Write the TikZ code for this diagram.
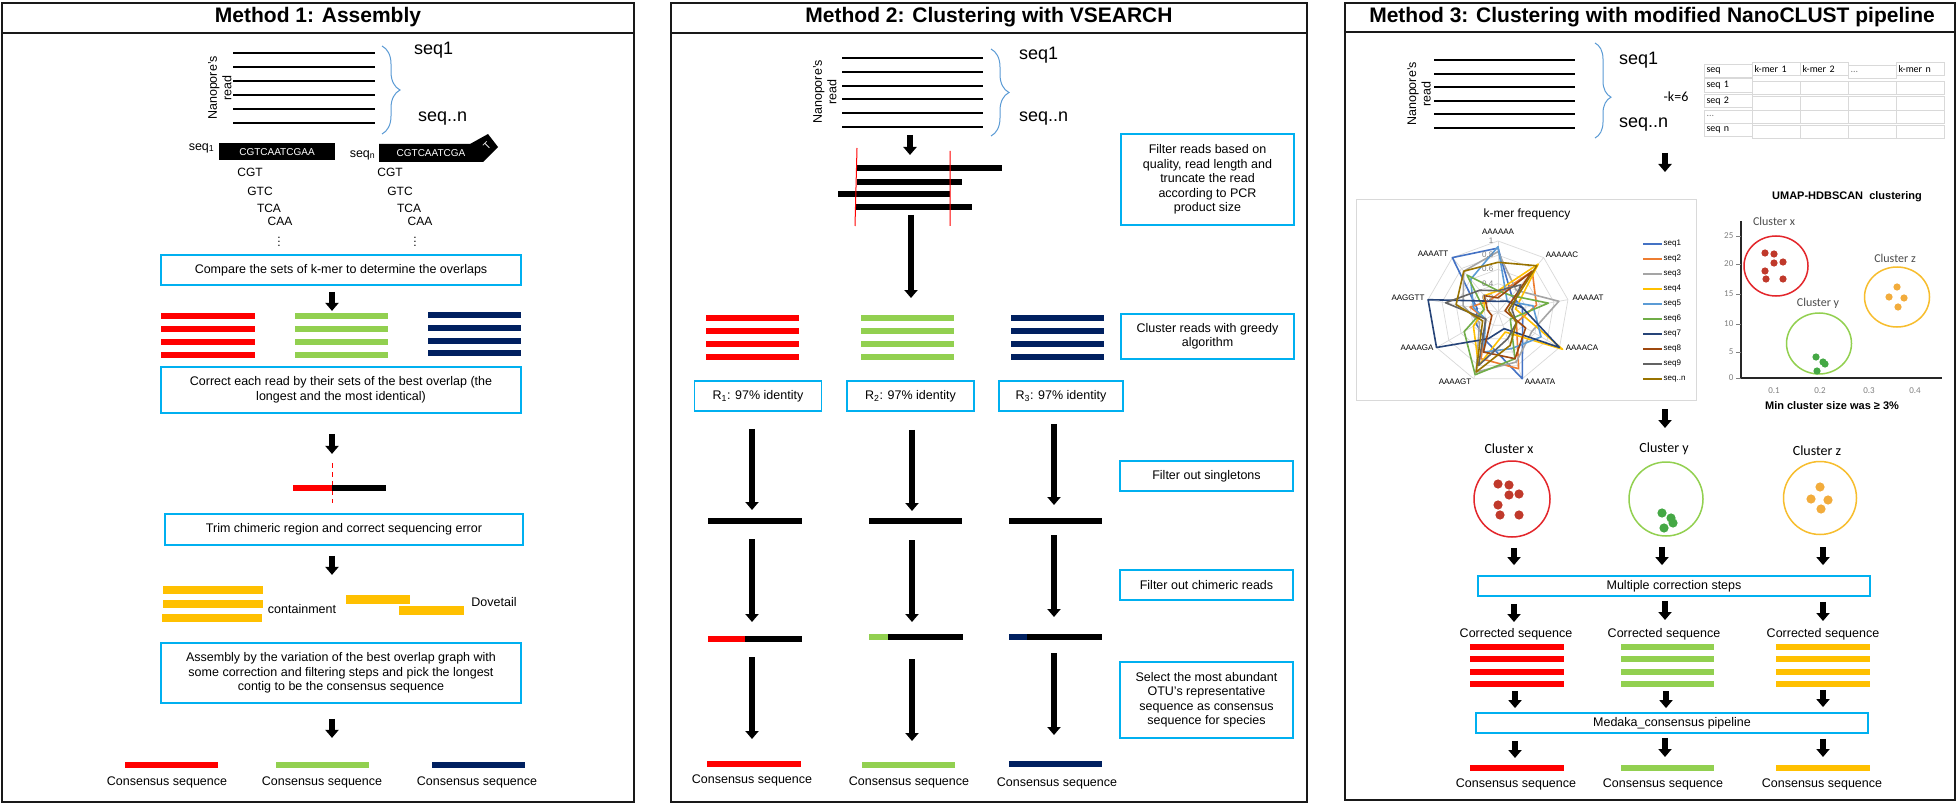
\documentclass[tikz,border=0pt]{standalone}
\usepackage{fontspec}
\setmainfont{Liberation Sans}
\newfontfamily\calfont{Carlito}
\usepackage{tikz}
\usetikzlibrary{arrows.meta,decorations.pathreplacing,matrix}

\definecolor{boxblue}{HTML}{00B0F0}
\definecolor{bracecol}{HTML}{5B9BD5}
\definecolor{seqred}{HTML}{FF0000}
\definecolor{seqgreen}{HTML}{92D050}
\definecolor{seqnavy}{HTML}{002060}
\definecolor{seqyellow}{HTML}{FFC000}
\definecolor{gridgray}{HTML}{D9D9D9}
\definecolor{tickgray}{HTML}{808080}
\definecolor{kmA}{HTML}{4472C4}
\definecolor{kmB}{HTML}{ED7D31}
\definecolor{kmC}{HTML}{A5A5A5}
\definecolor{kmD}{HTML}{FFC000}
\definecolor{kmE}{HTML}{5B9BD5}
\definecolor{kmF}{HTML}{70AD47}
\definecolor{kmG}{HTML}{264478}
\definecolor{kmH}{HTML}{9E480E}
\definecolor{kmI}{HTML}{636363}
\definecolor{kmJ}{HTML}{997300}
\definecolor{clred}{HTML}{E3262B}
\definecolor{dotred}{HTML}{C0392B}
\definecolor{clgreen}{HTML}{92D050}
\definecolor{dotgreen}{HTML}{45A845}
\definecolor{clyellow}{HTML}{F7BD2D}
\definecolor{dotyellow}{HTML}{F2AC3C}

\newcommand{\bodyfont}{\fontsize{12.5}{14.5}\selectfont}
\newcommand{\titlefont}{\fontsize{21}{24}\selectfont\bfseries}
\newcommand{\seqfont}{\fontsize{18}{20}\selectfont}
\newcommand{\kmerfont}{\fontsize{12}{14}\selectfont}
\newcommand{\strandfont}{\fontsize{10}{12}\selectfont}
\newcommand{\chartfont}{\fontsize{8}{9.5}\selectfont}
\newcommand{\plotfont}{\calfont\fontsize{9}{11}\selectfont}
\newcommand{\tablefont}{\calfont\fontsize{10}{12}\selectfont}
\newcommand{\paramfont}{\calfont\fontsize{14}{16}\selectfont}
\newcommand{\clusterfont}{\calfont\fontsize{14}{16}\selectfont}
\newcommand{\smallclusterfont}{\calfont\fontsize{12}{14}\selectfont}
\newcommand{\plotbold}{\fontsize{11}{13}\selectfont\bfseries}

\tikzset{
  panel/.style={draw=black!90, line width=2.4pt},
  titletext/.style={font=\titlefont, inner sep=0pt},
  stepbox/.style={draw=boxblue, line width=1.8pt, align=center, font=\bodyfont, inner sep=1pt},
  labeltext/.style={font=\bodyfont, inner sep=0.5pt, align=center},
  kmertext/.style={font=\kmerfont, inner sep=0pt},
  seqtext/.style={font=\seqfont, anchor=west, inner sep=0pt},
  blockarrow/.style={line width=5.5pt, -{Triangle[width=13pt,length=8pt]}},
  readline/.style={line width=1.6pt},
  readbar/.style={line width=6pt},
  barnode/.style={inner sep=0pt, outer sep=0pt, minimum height=6pt},
  seqbrace/.style={draw=bracecol, line width=1pt, decorate, decoration={brace, amplitude=18pt}},
  gridline/.style={draw=gridgray, line width=0.7pt},
  series/.style={line width=1.6pt, line join=round},
  axislabel/.style={font=\chartfont, inner sep=0.5pt},
  ticklabel/.style={font=\plotfont, text=tickgray, inner sep=0.5pt},
  clusterlabel/.style={font=\clusterfont, inner sep=0.5pt},
  bigcluster/.style={circle, line width=1.5pt, inner sep=0pt},
}

\begin{document}
\begin{tikzpicture}[x=1pt, y=-1pt]
\useasboundingbox (0,0) rectangle (1960,805);
\fill[white] (0,0) rectangle (1960,805);

% ---------------- Method 1 ----------------
\draw[panel] (2,3) rectangle (634,802);
\draw[panel] (2,33) -- (634,33);
\node[titletext] (title1) at (318,17.5) {Method 1: Assembly};

\draw[readline] (233,53) -- (375,53) (233,67) -- (375,67) (233,81) -- (375,81)
  (233,95) -- (375,95) (233,109) -- (375,109) (233,123) -- (375,123);
\node[labeltext, rotate=90] (reads1) at (220,88) {Nanopore’s\\read};
\draw[seqbrace] (382,46) -- (382,134);
\node[seqtext] (seqa1) at (414,50) {seq1};
\node[seqtext] (seqn1) at (418,119) {seq..n};

\node[labeltext, anchor=east] (strandlab1) at (215,148) {seq\textsubscript{1}};
\node[barnode, fill=black, text=white, font=\strandfont, minimum width=116pt, minimum height=17pt] (strand1) at (277,152) {CGTCAATCGAA};
\node[labeltext, anchor=east] (strandlab2) at (376,155) {seq\textsubscript{n}};
\fill (379,144) -- (470,144) -- (488,134) -- (498,147) -- (483,162) -- (379,162) -- cycle;
\node[text=white, font=\strandfont, inner sep=0pt] (strand2) at (431,153) {CGTCAATCGA};
\node[text=white, font=\strandfont, inner sep=0pt, rotate=45] (strand2t) at (487,146) {T};

\node[kmertext] (kmer1a) at (250,172) {CGT};
\node[kmertext] (kmer1b) at (260,191) {GTC};
\node[kmertext] (kmer1c) at (269,208) {TCA};
\node[kmertext] (kmer1d) at (280,221) {CAA};
\node[kmertext] (kmer1e) at (279,239) {$\vdots$};
\node[kmertext] (kmer2a) at (390,172) {CGT};
\node[kmertext] (kmer2b) at (400,191) {GTC};
\node[kmertext] (kmer2c) at (409,208) {TCA};
\node[kmertext] (kmer2d) at (420,221) {CAA};
\node[kmertext] (kmer2e) at (415,239) {$\vdots$};

\node[stepbox, minimum width=360pt, minimum height=30pt] (compare) at (341,270) {Compare the sets of k-mer to determine the overlaps};
\draw[blockarrow] ([shift={(-9,6)}]compare.south) -- ([shift={(-9,25)}]compare.south);

\draw[readbar, seqred] (161,316) -- (255,316) (161,329) -- (255,329) (161,342) -- (255,342) (161,355) -- (255,355);
\draw[readbar, seqgreen] (295,316) -- (388,316) (295,329) -- (388,329) (295,342) -- (388,342) (295,355) -- (388,355);
\draw[readbar, seqnavy] (428,315) -- (521,315) (428,328) -- (521,328) (428,341) -- (521,341) (428,353) -- (521,353);

\node[stepbox, minimum width=360pt, minimum height=46pt] (correct) at (341,390) {Correct each read by their sets of the best overlap (the\\longest and the most identical)};
\draw[blockarrow] ([shift={(-9,20)}]correct.south) -- ([shift={(-9,40)}]correct.south);

\draw[seqred, line width=1pt, dash pattern=on 5pt off 4pt] (332,463) -- (332,503);
\draw[readbar, seqred] (293,488) -- (332,488);
\draw[readbar] (332,488) -- (386,488);

\node[stepbox, minimum width=358pt, minimum height=31pt] (trim) at (344,529.5) {Trim chimeric region and correct sequencing error};
\draw[blockarrow] ([shift={(-12,10)}]trim.south) -- ([shift={(-12,29)}]trim.south);

\draw[line width=8pt, seqyellow] (163,590) -- (263,590) (163,604) -- (263,604) (162,618) -- (262,618);
\draw[line width=9pt, seqyellow] (346,599) -- (410,599) (399,610) -- (464,610);
\node[labeltext] (contain) at (302,609) {containment};
\node[labeltext] (dovetail) at (494,602) {Dovetail};

\node[stepbox, minimum width=360pt, minimum height=60pt] (assembly) at (341,673) {Assembly by the variation of the best overlap graph with\\some correction and filtering steps and pick the longest\\contig to be the consensus sequence};
\draw[blockarrow] ([shift={(-9,15)}]assembly.south) -- ([shift={(-9,34)}]assembly.south);

\node[barnode, fill=seqred, minimum width=93pt] (cons1a) at (171.5,765) {};
\node[barnode, fill=seqgreen, minimum width=93pt] (cons1b) at (322.5,765) {};
\node[barnode, fill=seqnavy, minimum width=93pt] (cons1c) at (478.5,765) {};
\node[labeltext] at ([shift={(-4.5,17)}]cons1a.center) (conslab1a) {Consensus sequence};
\node[labeltext] at ([shift={(-0.5,17)}]cons1b.center) (conslab1b) {Consensus sequence};
\node[labeltext] at ([shift={(-1.5,17)}]cons1c.center) (conslab1c) {Consensus sequence};

% ---------------- Method 2 ----------------
\draw[panel] (671,3) rectangle (1307,802);
\draw[panel] (671,33) -- (1307,33);
\node[titletext] (title2) at (989,17.5) {Method 2: Clustering with VSEARCH};

\draw[readline] (842,58) -- (983,58) (842,72) -- (983,72) (842,86) -- (983,86)
  (842,99) -- (983,99) (842,113) -- (983,113) (842,127) -- (983,127);
\node[labeltext, rotate=90] (reads2) at (825,92) {Nanopore’s\\read};
\draw[seqbrace] (991,49) -- (991,136);
\node[seqtext] (seqa2) at (1019,55) {seq1};
\node[seqtext] (seqn2) at (1019,119) {seq..n};

\coordinate (trunctop) at (910,135);
\draw[blockarrow] (trunctop) -- ++(0,20);
\draw[readbar] (857,168) -- (1002,168) (857,182) -- (962,182) (838,194) -- (950,194) (856,207) -- (972,207);
\draw[red, line width=1pt] (857,148) -- (855,226) (950,151) -- (950,226);
\coordinate (truncbot) at (911,215);
\draw[blockarrow] (truncbot) -- ++(0,83);

\node[stepbox, minimum width=173pt, minimum height=91pt] (filterbox) at (1207.5,179.5) {Filter reads based on\\quality, read length and\\truncate the read\\according to PCR\\product size};

\draw[readbar, seqred] (706,318) -- (799,318) (706,331) -- (799,331) (706,344) -- (799,344) (706,357) -- (799,357);
\draw[readbar, seqgreen] (861,318) -- (954,318) (861,331) -- (954,331) (861,344) -- (954,344) (861,357) -- (954,357);
\draw[readbar, seqnavy] (1011,318) -- (1104,318) (1011,331) -- (1104,331) (1011,344) -- (1104,344) (1011,357) -- (1104,357);
\node[stepbox, minimum width=173pt, minimum height=45pt] (clusterbox) at (1207.5,336.5) {Cluster reads with greedy\\algorithm};

\node[stepbox, minimum width=127pt, minimum height=30pt] (otu1) at (758,396) {R\textsubscript{1}: 97\% identity};
\node[stepbox, minimum width=127pt, minimum height=30pt] (otu2) at (910.5,396) {R\textsubscript{2}: 97\% identity};
\node[stepbox, minimum width=124pt, minimum height=30pt] (otu3) at (1061,396) {R\textsubscript{3}: 97\% identity};

\node[barnode, fill=black, minimum width=94pt] (single1) at (755,521) {};
\node[barnode, fill=black, minimum width=93pt] (single2) at (915.5,521) {};
\node[barnode, fill=black, minimum width=93pt] (single3) at (1055.5,521) {};
\node[barnode, fill=black, minimum width=94pt] (chim1) at (755,639) {};
\node[barnode, fill=black, minimum width=94pt] (chim2) at (916,637) {};
\node[barnode, fill=black, minimum width=93pt] (chim3) at (1055.5,637) {};
\fill[seqred] (chim1.south west) rectangle ([xshift=37pt]chim1.north west);
\fill[seqgreen] (chim2.south west) rectangle ([xshift=19pt]chim2.north west);
\fill[seqnavy] (chim3.south west) rectangle ([xshift=18pt]chim3.north west);
\node[barnode, fill=seqred, minimum width=94pt] (cons2a) at (754,764) {};
\node[barnode, fill=seqgreen, minimum width=93pt] (cons2b) at (908.5,765) {};
\node[barnode, fill=seqnavy, minimum width=93pt] (cons2c) at (1055.5,764) {};
\node[labeltext] at ([shift={(-2,16)}]cons2a.center) (conslab2a) {Consensus sequence};
\node[labeltext] at ([shift={(0.5,17)}]cons2b.center) (conslab2b) {Consensus sequence};
\node[labeltext] at ([shift={(1.5,19)}]cons2c.center) (conslab2c) {Consensus sequence};

\draw[blockarrow] ([shift={(-6,17)}]otu1.south) -- ([shift={(-3,-11)}]single1.center);
\draw[blockarrow] ([shift={(-3,18)}]single1.center) -- ([shift={(-3,-17)}]chim1.center);
\draw[blockarrow] ([shift={(-3,18)}]chim1.center) -- ([shift={(-2,-25)}]cons2a.center);
\draw[blockarrow] ([shift={(1.5,18)}]otu2.south) -- ([shift={(-3.5,-10)}]single2.center);
\draw[blockarrow] ([shift={(-3.5,19)}]single2.center) -- ([shift={(-4,-15)}]chim2.center);
\draw[blockarrow] ([shift={(-4,22)}]chim2.center) -- ([shift={(3.5,-24)}]cons2b.center);
\draw[blockarrow] ([shift={(-7,12)}]otu3.south) -- ([shift={(-1.5,-16)}]single3.center);
\draw[blockarrow] ([shift={(-1.5,14)}]single3.center) -- ([shift={(-1.5,-20)}]chim3.center);
\draw[blockarrow] ([shift={(-1.5,16)}]chim3.center) -- ([shift={(-1.5,-29)}]cons2c.center);

\node[stepbox, minimum width=173pt, minimum height=30pt] (singletons) at (1206.5,476) {Filter out singletons};
\node[stepbox, minimum width=173pt, minimum height=30pt] (chimbox) at (1206.5,585) {Filter out chimeric reads};
\node[stepbox, minimum width=173pt, minimum height=76pt] (selectbox) at (1206.5,700) {Select the most abundant\\OTU’s representative\\sequence as consensus\\sequence for species};

% ---------------- Method 3 ----------------
\draw[panel] (1345,3) rectangle (1955,800);
\draw[panel] (1345,32) -- (1955,32);
\node[titletext] (title3) at (1652,17) {Method 3: Clustering with modified NanoCLUST pipeline};

\draw[readline] (1434,60) -- (1575,60) (1434,74) -- (1575,74) (1434,87) -- (1575,87)
  (1434,101) -- (1575,101) (1434,114) -- (1575,114) (1434,128) -- (1575,128);
\node[labeltext, rotate=90] (reads3) at (1419,94) {Nanopore’s\\read};
\draw[seqbrace, decoration={brace, amplitude=16pt, aspect=0.57}] (1595,43) -- (1595,138);
\node[seqtext] (seqa3) at (1619,60) {seq1};
\node[seqtext] (seqn3) at (1619,125) {seq..n};
\node[font=\paramfont, inner sep=0pt] (kparam) at (1676,97) {-k=6};

\matrix [matrix of nodes, nodes in empty cells, row sep=-0.6pt, column sep=-0.6pt, anchor=north west, inner sep=0pt,
  nodes={draw=gridgray, line width=0.6pt, font=\tablefont, text width=44pt, inner sep=2pt, minimum height=13.2pt, align=left}] (kmertable) at (1704,62)
{
  seq & k-mer 1 & k-mer 2 & |[text=tickgray]| ... & k-mer n \\
  seq 1 & & & & \\
  seq 2 & & & & \\
  |[text=tickgray]| ... & & & & \\
  seq n & & & & \\
};

\coordinate (charttop) at (1665,153);
\draw[blockarrow] (charttop) -- ++(0,19);

% k-mer frequency radar chart
\draw[gridgray, line width=0.8pt] (1356,199) rectangle (1696,400);
\node[font=\kmerfont, inner sep=0pt] (kmertitle) at (1527,214) {k-mer frequency};
\begin{scope}[shift={(1498pt,-312pt)}, x=71pt, y=71pt]
  \foreach \r in {0.2,0.4,0.6,0.8,1}
    \draw[gridline] (90:\r) -- (50:\r) -- (10:\r) -- (-30:\r) -- (-70:\r) -- (-110:\r) -- (-150:\r) -- (170:\r) -- (130:\r) -- cycle;
  \foreach \a in {90,50,10,-30,-70,-110,-150,170,130}
    \draw[gridline] (0,0) -- (\a:1);
  \draw[series, kmA] (90:0.9) -- (50:0.3) -- (10:0.35) -- (-30:0.4) -- (-70:1) -- (-110:0.45) -- (-150:0.35) -- (170:0.3) -- (130:1) -- cycle;
  \draw[series, kmB] (90:0.25) -- (50:0.75) -- (10:0.55) -- (-30:0.3) -- (-70:0.85) -- (-110:0.7) -- (-150:0.2) -- (170:0.4) -- (130:0.2) -- cycle;
  \draw[series, kmC] (90:0.85) -- (50:0.4) -- (10:0.87) -- (-30:0.55) -- (-70:0.75) -- (-110:0.9) -- (-150:0.3) -- (170:0.5) -- (130:0.75) -- cycle;
  \draw[series, kmD] (90:0.3) -- (50:0.88) -- (10:0.25) -- (-30:1.05) -- (-70:0.3) -- (-110:0.8) -- (-150:0.4) -- (170:0.2) -- (130:0.3) -- cycle;
  \draw[series, kmE] (90:0.92) -- (50:0.2) -- (10:0.5) -- (-30:0.7) -- (-70:0.55) -- (-110:0.6) -- (-150:0.2) -- (170:0.35) -- (130:0.6) -- cycle;
  \draw[series, kmF] (90:0.3) -- (50:0.3) -- (10:0.72) -- (-30:0.2) -- (-70:0.7) -- (-110:0.94) -- (-150:0.55) -- (170:0.2) -- (130:0.68) -- cycle;
  \draw[series, kmG] (90:0.15) -- (50:0.2) -- (10:0.35) -- (-30:1) -- (-70:0.25) -- (-110:0.4) -- (-150:1) -- (170:1) -- (130:0.2) -- cycle;
  \draw[series, kmH] (90:0.2) -- (50:0.75) -- (10:0.1) -- (-30:0.45) -- (-70:0.7) -- (-110:0.6) -- (-150:0.1) -- (170:0.15) -- (130:0.3) -- cycle;
  \draw[series, kmI] (90:0.3) -- (50:0.5) -- (10:0.2) -- (-30:0.3) -- (-70:0.4) -- (-110:0.8) -- (-150:0.2) -- (170:0.75) -- (130:0.4) -- cycle;
  \draw[series, kmJ] (90:0.7) -- (50:0.85) -- (10:0.15) -- (-30:0.3) -- (-70:0.5) -- (-110:0.9) -- (-150:0.25) -- (170:0.6) -- (130:0.75) -- cycle;
\end{scope}
\node[axislabel, text=tickgray, anchor=east] (ring10) at (1494,241) {1};
\node[axislabel, text=tickgray, anchor=east] (ring08) at (1494,255) {0.8};
\node[axislabel, text=tickgray, anchor=east] (ring06) at (1494,269) {0.6};
\node[axislabel, text=tickgray, anchor=east] (ring04) at (1494,283.5) {0.4};
\node[axislabel, text=tickgray, anchor=east] (ring02) at (1494,298) {0.2};
\node[axislabel] (axA) at (1498,232) {AAAAAA};
\node[axislabel] (axB) at (1562,255) {AAAAAC};
\node[axislabel] (axC) at (1588,298) {AAAAAT};
\node[axislabel] (axD) at (1582,348) {AAAACA};
\node[axislabel] (axE) at (1540,382) {AAAATA};
\node[axislabel] (axF) at (1455,382) {AAAAGT};
\node[axislabel] (axG) at (1417,348) {AAAAGA};
\node[axislabel] (axH) at (1408,298) {AAGGTT};
\node[axislabel] (axI) at (1433,254) {AAAATT};

\draw[series, kmA] (1643,244) -- (1662,244);
\draw[series, kmB] (1643,259) -- (1662,259);
\draw[series, kmC] (1643,274) -- (1662,274);
\draw[series, kmD] (1643,289) -- (1662,289);
\draw[series, kmE] (1643,304) -- (1662,304);
\draw[series, kmF] (1643,319) -- (1662,319);
\draw[series, kmG] (1643,334) -- (1662,334);
\draw[series, kmH] (1643,349) -- (1662,349);
\draw[series, kmI] (1643,364) -- (1662,364);
\draw[series, kmJ] (1643,379) -- (1662,379);
\node[axislabel, anchor=west] (leg1) at (1663,244) {seq1};
\node[axislabel, anchor=west] (leg2) at (1663,259) {seq2};
\node[axislabel, anchor=west] (leg3) at (1663,274) {seq3};
\node[axislabel, anchor=west] (leg4) at (1663,289) {seq4};
\node[axislabel, anchor=west] (leg5) at (1663,304) {seq5};
\node[axislabel, anchor=west] (leg6) at (1663,319) {seq6};
\node[axislabel, anchor=west] (leg7) at (1663,334) {seq7};
\node[axislabel, anchor=west] (leg8) at (1663,349) {seq8};
\node[axislabel, anchor=west] (leg9) at (1663,364) {seq9};
\node[axislabel, anchor=west] (legn) at (1663,379) {seq..n};

% UMAP-HDBSCAN plot
\node[font=\plotbold, inner sep=0pt] (umaptitle) at (1847,197) {UMAP-HDBSCAN\ \ clustering};
\draw[line width=2pt, black!85] (1741,221) -- (1741,378) -- (1942,378);
\draw[tickgray, line width=0.5pt] (1736,236) -- (1741,236) (1736,264) -- (1741,264) (1736,294) -- (1741,294)
  (1736,324) -- (1741,324) (1736,352) -- (1741,352) (1736,378) -- (1741,378);
\node[ticklabel, anchor=east] (ty25) at (1734,236) {25};
\node[ticklabel, anchor=east] (ty20) at (1734,264) {20};
\node[ticklabel, anchor=east] (ty15) at (1734,294) {15};
\node[ticklabel, anchor=east] (ty10) at (1734,324) {10};
\node[ticklabel, anchor=east] (ty05) at (1734,352) {5};
\node[ticklabel, anchor=east] (ty00) at (1734,378) {0};
\node[ticklabel] (tx1) at (1774,391) {0.1};
\node[ticklabel] (tx2) at (1820,391) {0.2};
\node[ticklabel] (tx3) at (1869,391) {0.3};
\node[ticklabel] (tx4) at (1915,391) {0.4};
\node[font=\plotbold, inner sep=0pt] (minsize) at (1832,406) {Min cluster size was ≥ 3\%};

\draw[clred, line width=1.5pt] (1776,266) ellipse [x radius=32pt, y radius=30pt];
\draw[clgreen, line width=1.5pt] (1819,343.5) ellipse [x radius=32.5pt, y radius=30.5pt];
\draw[clyellow, line width=1.5pt] (1897,297) ellipse [x radius=32.5pt, y radius=30pt];
\node[font=\smallclusterfont, text=black!70, inner sep=0pt] (plotx) at (1774,221) {Cluster x};
\node[font=\smallclusterfont, text=black!70, inner sep=0pt] (ploty) at (1818,303) {Cluster y};
\node[font=\smallclusterfont, text=black!70, inner sep=0pt] (plotz) at (1895,258) {Cluster z};
\fill[dotred] (1765,253) circle (3.6pt) (1774,254) circle (3.6pt) (1774,263) circle (3.6pt) (1783,262) circle (3.6pt)
  (1765,271) circle (3.6pt) (1766,279) circle (3.6pt) (1783,279) circle (3.6pt);
\fill[dotyellow] (1897,287) circle (3.6pt) (1889,297) circle (3.6pt) (1904,298) circle (3.6pt) (1898,307) circle (3.6pt);
\fill[dotgreen] (1816,357) circle (3.6pt) (1823,362) circle (3.6pt) (1825,364) circle (3.6pt) (1817,371) circle (3.6pt);

\coordinate (clustertop) at (1665,409);
\draw[blockarrow] (clustertop) -- ++(0,19);

% separated clusters
\node[clusterlabel] (bigxlab) at (1509,449) {Cluster x};
\node[clusterlabel] (bigylab) at (1664,449) {Cluster y};
\node[clusterlabel] (bigzlab) at (1817,451) {Cluster z};
\node[bigcluster, draw=clred, minimum size=76pt] (bigx) at (1512,499) {};
\node[bigcluster, draw=clgreen, minimum size=74pt] (bigy) at (1666,499) {};
\node[bigcluster, draw=clyellow, minimum size=73pt] (bigz) at (1820,498) {};
\fill[dotred] (1498,484) circle (4.6pt) (1509,485) circle (4.6pt) (1509,495) circle (4.6pt) (1519,494) circle (4.6pt)
  (1498,505) circle (4.6pt) (1500,515) circle (4.6pt) (1519,515) circle (4.6pt);
\fill[dotgreen] (1662,513) circle (4.6pt) (1671,518) circle (4.6pt) (1673,523) circle (4.6pt) (1664,528) circle (4.6pt);
\fill[dotyellow] (1820,487) circle (4.6pt) (1811,499) circle (4.6pt) (1828,500) circle (4.6pt) (1821,509) circle (4.6pt);

\node[stepbox, minimum width=392pt, minimum height=20pt] (multibox) at (1674,586) {Multiple correction steps};
\draw[blockarrow] ([shift={(2,10)}]bigx.south) -- ([shift={(-160,-10)}]multibox.north);
\draw[blockarrow] ([shift={(-4,10)}]bigy.south) -- ([shift={(-12,-10)}]multibox.north);
\draw[blockarrow] ([shift={(3,12)}]bigz.south) -- ([shift={(149,-10)}]multibox.north);

\node[labeltext] (corr3a) at (1516,634) {Corrected sequence};
\node[labeltext] (corr3b) at (1664,634) {Corrected sequence};
\node[labeltext] (corr3c) at (1823,634) {Corrected sequence};
\draw[blockarrow] ([shift={(-160,7)}]multibox.south) -- ([shift={(-2,-12)}]corr3a.center);
\draw[blockarrow] ([shift={(-9,4)}]multibox.south) -- ([shift={(1,-14)}]corr3b.center);
\draw[blockarrow] ([shift={(149,5)}]multibox.south) -- ([shift={(0,-13)}]corr3c.center);

\draw[readbar, seqred] (1470,647) -- (1564,647) (1470,659) -- (1564,659) (1470,672) -- (1564,672) (1470,684) -- (1564,684);
\draw[readbar, seqgreen] (1621,647) -- (1714,647) (1621,659) -- (1714,659) (1621,672) -- (1714,672) (1621,684) -- (1714,684);
\draw[readbar, seqyellow] (1776,647) -- (1870,647) (1776,659) -- (1870,659) (1776,672) -- (1870,672) (1776,684) -- (1870,684);

\node[stepbox, minimum width=392pt, minimum height=20pt] (medakabox) at (1672,723) {Medaka\_consensus pipeline};
\draw[blockarrow] ([shift={(-1,57)}]corr3a.center) -- ([shift={(-157,-4)}]medakabox.north);
\draw[blockarrow] ([shift={(2,57)}]corr3b.center) -- ([shift={(-6,-4)}]medakabox.north);
\draw[blockarrow] ([shift={(0,56)}]corr3c.center) -- ([shift={(151,-5)}]medakabox.north);

\node[barnode, fill=seqred, minimum width=94pt] (cons3a) at (1517,768) {};
\node[barnode, fill=seqgreen, minimum width=93pt] (cons3b) at (1667.5,768) {};
\node[barnode, fill=seqyellow, minimum width=94pt] (cons3c) at (1823,768) {};
\draw[blockarrow] ([shift={(-157,7)}]medakabox.south) -- ([shift={(-2,-10)}]cons3a.center);
\draw[blockarrow] ([shift={(-7,4)}]medakabox.south) -- ([shift={(-2.5,-11)}]cons3b.center);
\draw[blockarrow] ([shift={(151,5)}]medakabox.south) -- ([shift={(0,-11)}]cons3c.center);
\node[labeltext] at ([shift={(-1,16)}]cons3a.center) (conslab3a) {Consensus sequence};
\node[labeltext] at ([shift={(-4.5,16)}]cons3b.center) (conslab3b) {Consensus sequence};
\node[labeltext] at ([shift={(-1,16)}]cons3c.center) (conslab3c) {Consensus sequence};

\end{tikzpicture}
\end{document}
